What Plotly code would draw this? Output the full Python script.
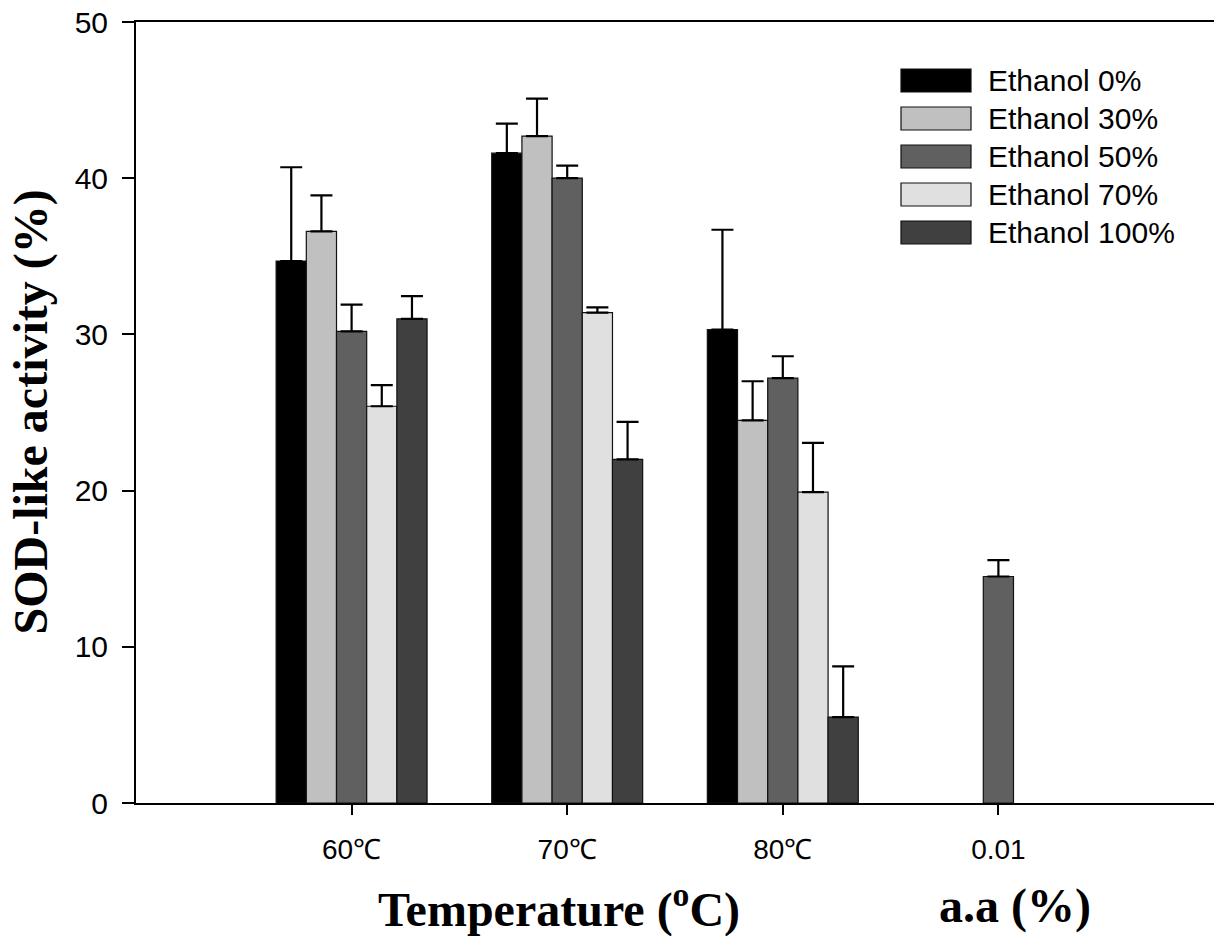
import plotly.graph_objects as go

# SOD-like activity (%) of extracts by extraction temperature and ethanol ratio,
# plus the ascorbic acid (a.a) reference at 0.01 %.
categories = ["60℃", "70℃", "80℃", "0.01"]
series_names = ["Ethanol 0%", "Ethanol 30%", "Ethanol 50%", "Ethanol 70%", "Ethanol 100%"]

ethanol_0 = [34.7, 41.6, 30.3]
ethanol_30 = [36.6, 42.7, 24.5]
ethanol_50 = [30.2, 40.0, 27.2, 14.5]
ethanol_70 = [25.4, 31.4, 19.9]
ethanol_100 = [31.0, 22.0, 5.5]

err_0 = [6.0, 1.9, 6.4]
err_30 = [2.3, 2.4, 2.5]
err_50 = [1.7, 0.8, 1.4, 1.05]
err_70 = [1.35, 0.33, 3.15]
err_100 = [1.45, 2.4, 3.25]

values = [ethanol_0, ethanol_30, ethanol_50, ethanol_70, ethanol_100]
errors = [err_0, err_30, err_50, err_70, err_100]
colors = ["#000000", "#c0c0c0", "#606060", "#e0e0e0", "#404040"]

W, H = 1214, 936
ML, MR, MT, MB = 136, 0, 22, 133
PW, PH = W - ML - MR, H - MT - MB


def px_x(px):
    return (px - ML) / PW


def px_y(py):
    return (H - MB - py) / PH


fig = go.Figure()
for name, vals, errs, col in zip(series_names, values, errors, colors):
    fig.add_trace(go.Bar(
        name=name,
        x=categories[:len(vals)],
        y=vals,
        marker=dict(color=col, line=dict(color="#111111", width=1.2)),
        error_y=dict(type="data", array=errs, arrayminus=[0] * len(errs),
                     symmetric=False, color="#000000", thickness=2.2, width=11),
        showlegend=False,
    ))

sans = "Arial, Liberation Sans, sans-serif"
serif = "Times New Roman, Liberation Serif, serif"

fig.update_layout(
    width=W, height=H,
    margin=dict(l=ML, r=MR, t=MT, b=MB),
    paper_bgcolor="white", plot_bgcolor="white",
    barmode="group", bargap=0.3, bargroupgap=0,
    xaxis=dict(
        type="category", categoryorder="array", categoryarray=categories,
        range=[-1, 4], showgrid=False, zeroline=False,
        showline=True, linecolor="black", linewidth=2, mirror=True,
        ticks="outside", ticklen=10, tickwidth=2, tickcolor="black",
        tickfont=dict(family=sans, size=28, color="black"),
        ticklabelstandoff=10,
    ),
    yaxis=dict(
        range=[0, 50], tickvals=[0, 10, 20, 30, 40, 50],
        showgrid=False, zeroline=False,
        showline=True, linecolor="black", linewidth=2, mirror=False,
        ticks="outside", ticklen=12, tickwidth=2, tickcolor="black",
        tickfont=dict(family=sans, size=30, color="black"),
        ticklabelstandoff=8,
    ),
)

annotations = [
    dict(text="<b>SOD-like activity (%)</b>", textangle=-90,
         xref="paper", yref="paper", x=px_x(30), y=0.5,
         xanchor="center", yanchor="middle", showarrow=False,
         font=dict(family=serif, size=48, color="black")),
    dict(text="<b>Temperature (<sup>o</sup>C)</b>",
         xref="paper", yref="paper", x=px_x(559), y=px_y(906),
         xanchor="center", yanchor="middle", showarrow=False,
         font=dict(family=serif, size=48, color="black")),
    dict(text="<b>a.a (%)</b>",
         xref="paper", yref="paper", x=px_x(1015), y=px_y(906),
         xanchor="center", yanchor="middle", showarrow=False,
         font=dict(family=serif, size=48, color="black")),
]

# Legend drawn as wide swatches with labels to their right.
shapes = []
row0, row_step = 80.5, 38
for i, (name, col) in enumerate(zip(series_names, colors)):
    cy = row0 + i * row_step
    shapes.append(dict(type="rect", xref="paper", yref="paper",
                       x0=px_x(901), x1=px_x(971),
                       y0=px_y(cy + 11.5), y1=px_y(cy - 11.5),
                       fillcolor=col, line=dict(color="#111111", width=1.2)))
    annotations.append(dict(text=name, xref="paper", yref="paper",
                            x=px_x(986), y=px_y(cy), xanchor="left",
                            yanchor="middle", showarrow=False,
                            font=dict(family=sans, size=30, color="black")))

fig.update_layout(annotations=annotations, shapes=shapes)
fig.write_html("out.html")
